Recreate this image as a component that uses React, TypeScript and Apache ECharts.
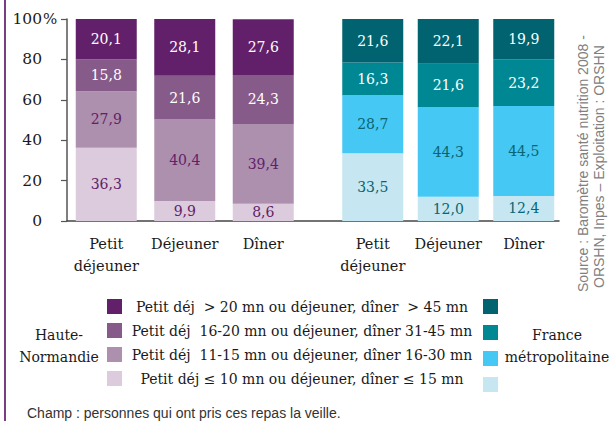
import React, { useEffect, useRef } from "react";
import * as echarts from "echarts";

// ---- Data ----
const categories = ["Petit\ndéjeuner", "Déjeuner", "Dîner"];

// Legend labels, top to bottom
const levelLabels = [
  "Petit déj  > 20 mn ou déjeuner, dîner  > 45 mn",
  "Petit déj  16-20 mn ou déjeuner, dîner 31-45 mn",
  "Petit déj  11-15 mn ou déjeuner, dîner 16-30 mn",
  "Petit déj ≤ 10 mn ou déjeuner, dîner ≤ 15 mn",
];

// Haute-Normandie, by level (index matches levelLabels)
const hnGt = [20.1, 28.1, 27.6];
const hnMidHigh = [15.8, 21.6, 24.3];
const hnMidLow = [27.9, 40.4, 39.4];
const hnLow = [36.3, 9.9, 8.6];

// France métropolitaine
const frGt = [21.6, 22.1, 19.9];
const frMidHigh = [16.3, 21.6, 23.2];
const frMidLow = [28.7, 44.3, 44.5];
const frLow = [33.5, 12.0, 12.4];

const yTicks = [0, 20, 40, 60, 80, 100];

const hnColors = ["#63206A", "#865A89", "#AD90AE", "#DBCBDC"];
const frColors = ["#00636F", "#008794", "#45C8F4", "#C6E7F2"];
const hnLabelColors = ["#ffffff", "#ffffff", "#63206A", "#63206A"];
const frLabelColors = ["#ffffff", "#ffffff", "#0A6570", "#0A6570"];

const SERIF = "DejaVu Serif";
const SANS = "Liberation Sans";

const fmt = (v: number) => v.toFixed(1).replace(".", ",");

export default function App() {
  const ref = useRef<HTMLDivElement>(null);

  useEffect(() => {
    if (!ref.current) return;
    const chart = echarts.init(ref.current, undefined, { renderer: "svg" });

    const hnData = [hnGt, hnMidHigh, hnMidLow, hnLow];
    const frData = [frGt, frMidHigh, frMidLow, frLow];
    const frNames = levelLabels.map((l) => l + " (France métropolitaine)");

    const labelCfg = (color: string) => ({
      show: true,
      position: "inside",
      formatter: (p: any) => fmt(p.value),
      color,
      fontFamily: SERIF,
      fontSize: 14,
    });

    const series: any[] = [];
    // stack from bottom (index 3) to top (index 0)
    for (let i = 3; i >= 0; i--) {
      series.push({
        type: "bar",
        name: levelLabels[i],
        xAxisIndex: 1,
        yAxisIndex: 1,
        stack: "hn",
        barWidth: 61,
        data: hnData[i],
        itemStyle: { color: hnColors[i] },
        label: labelCfg(hnLabelColors[i]),
      });
    }
    for (let i = 3; i >= 0; i--) {
      series.push({
        type: "bar",
        name: frNames[i],
        xAxisIndex: 2,
        yAxisIndex: 2,
        stack: "fr",
        barWidth: 61,
        data: frData[i],
        itemStyle: { color: frColors[i] },
        label: labelCfg(frLabelColors[i]),
      });
    }

    const catAxis = (gridIndex: number) => ({
      type: "category",
      gridIndex,
      data: categories,
      axisLine: { show: false },
      axisTick: { show: false },
      axisLabel: {
        margin: 12,
        fontFamily: SERIF,
        fontSize: 14.5,
        color: "#1a1a1a",
        lineHeight: 22,
        interval: 0,
      },
    });
    const hiddenY = (gridIndex: number) => ({
      type: "value",
      gridIndex,
      min: 0,
      max: 100,
      interval: 20,
      show: false,
    });

    chart.setOption({
      animation: false,
      grid: [
        { left: 67, top: 19, width: 492, height: 202 },
        { left: 67, top: 19, width: 235.5, height: 202 },
        { left: 335, top: 19, width: 226.5, height: 202 },
      ],
      xAxis: [
        {
          type: "value",
          gridIndex: 0,
          min: 0,
          max: 1,
          axisLine: { show: true, lineStyle: { color: "#444", width: 1.5 } },
          axisTick: { show: false },
          axisLabel: { show: false },
          splitLine: { show: false },
        },
        catAxis(1),
        catAxis(2),
      ],
      yAxis: [
        {
          type: "value",
          gridIndex: 0,
          min: yTicks[0],
          max: yTicks[yTicks.length - 1],
          interval: yTicks[1] - yTicks[0],
          axisLine: { show: true, lineStyle: { color: "#555", width: 1.5 } },
          axisTick: { show: true, length: 6, lineStyle: { color: "#555", width: 1.2 } },
          splitLine: { show: false },
          axisLabel: {
            margin: 25,
            fontFamily: SERIF,
            fontSize: 15.5,
            color: "#1a1a1a",
          },
        },
        hiddenY(1),
        hiddenY(2),
      ],
      legend: [
        {
          orient: "vertical",
          left: 107,
          top: 299,
          padding: 0,
          itemWidth: 15,
          itemHeight: 15,
          itemGap: 9,
          icon: "rect",
          selectedMode: false,
          data: levelLabels,
          formatter: (n: string) => `{t|${n}}`,
          textStyle: {
            lineHeight: 15,
            fontFamily: SERIF,
            rich: {
              t: {
                width: 350,
                align: "center",
                fontFamily: SERIF,
                fontSize: 14,
                color: "#1a1a1a",
                lineHeight: 15,
              },
            },
          },
        },
        {
          orient: "vertical",
          left: 483,
          top: 299,
          padding: 0,
          itemWidth: 15,
          itemHeight: 15,
          itemGap: 11,
          icon: "rect",
          selectedMode: false,
          data: frNames,
          formatter: () => "",
          textStyle: { lineHeight: 15, fontSize: 12 },
        },
      ],
      graphic: [
        {
          type: "rect",
          shape: { x: 4, y: 0, width: 2, height: 421 },
          style: { fill: "#7B3D82" },
        },
        {
          type: "text",
          x: 43,
          y: 19,
          style: {
            text: "%",
            fontFamily: SERIF,
            fontSize: 15,
            fill: "#1a1a1a",
            align: "left",
            verticalAlign: "middle",
          },
        },
        {
          type: "text",
          x: 59,
          y: 346,
          style: {
            text: "Haute-\nNormandie",
            fontFamily: SERIF,
            fontSize: 14,
            lineHeight: 22,
            fill: "#1a1a1a",
            align: "center",
            verticalAlign: "middle",
          },
        },
        {
          type: "text",
          x: 557,
          y: 346,
          style: {
            text: "France\nmétropolitaine",
            fontFamily: SERIF,
            fontSize: 14,
            lineHeight: 22,
            fill: "#1a1a1a",
            align: "center",
            verticalAlign: "middle",
          },
        },
        {
          type: "text",
          x: 27,
          y: 413,
          style: {
            text: "Champ : personnes qui ont pris ces repas la veille.",
            fontFamily: SANS,
            fontSize: 14,
            fill: "#333333",
            align: "left",
            verticalAlign: "middle",
          },
        },
        {
          type: "text",
          x: 583,
          y: 292,
          rotation: Math.PI / 2,
          style: {
            text: "Source : Baromètre santé nutrition 2008 -",
            fontFamily: SANS,
            fontSize: 14,
            fill: "#808080",
            align: "left",
            verticalAlign: "middle",
          },
        },
        {
          type: "text",
          x: 599,
          y: 288,
          rotation: Math.PI / 2,
          style: {
            text: "ORSHN, Inpes – Exploitation : ORSHN",
            fontFamily: SANS,
            fontSize: 14,
            fill: "#808080",
            align: "left",
            verticalAlign: "middle",
          },
        },
      ],
      series,
    });

    return () => chart.dispose();
  }, []);

  return (
    <div
      ref={ref}
      style={{ position: "absolute", left: 0, top: 0, width: 616, height: 421, background: "#ffffff" }}
    />
  );
}
